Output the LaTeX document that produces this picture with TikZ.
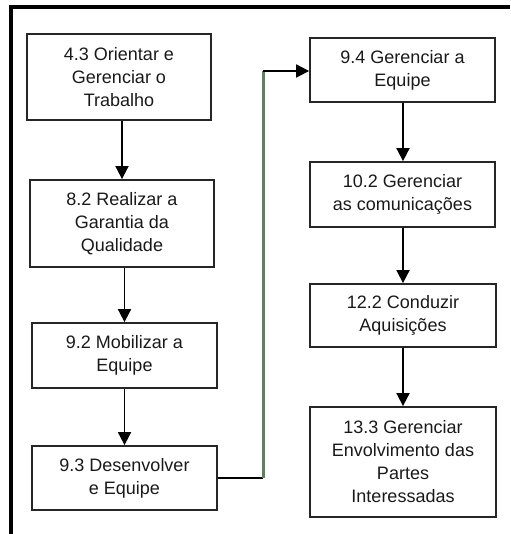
\documentclass[tikz,border=0pt]{standalone}
\usepackage{fontspec}
\setmainfont{Liberation Sans}
\usetikzlibrary{arrows.meta}
\definecolor{linkgreen}{RGB}{96,128,96}
\tikzset{
  procbox/.style={draw=black!85,line width=1.8pt,align=center,inner sep=0pt,
    font=\fontsize{18}{23}\selectfont,text=black!90},
  flow/.style={->,line width=1.8pt}
}
\begin{document}
\begin{tikzpicture}[x=1pt,y=-1pt,line cap=butt,line join=miter,>={Triangle[width=13pt,length=13pt]}]
  \useasboundingbox (0,0) rectangle (510,534);
  % frame
  \draw[line width=3.5pt] (11,534)--(11,7)--(510,7);
  % left column
  \node[procbox,minimum width=184pt,minimum height=86pt] (orientar) at (119,77) {4.3 Orientar e\\Gerenciar o\\Trabalho};
  \node[procbox,minimum width=184pt,minimum height=87pt] (garantia) at (122,223.5) {8.2 Realizar a\\Garantia da\\Qualidade};
  \node[procbox,minimum width=185pt,minimum height=65pt] (mobilizar) at (124.5,355.5) {9.2 Mobilizar a\\Equipe};
  \node[procbox,minimum width=185pt,minimum height=64pt] (desenvolver) at (124.5,478) {9.3 Desenvolver\\e Equipe};
  % right column
  \node[procbox,minimum width=185pt,minimum height=64pt] (gerenciar) at (402.5,70) {9.4 Gerenciar a\\Equipe};
  \node[procbox,minimum width=185pt,minimum height=65pt] (comunic) at (402.5,194.5) {10.2 Gerenciar\\as comunicações};
  \node[procbox,minimum width=186pt,minimum height=63pt] (aquis) at (403,315.5) {12.2 Conduzir\\Aquisições};
  \node[procbox,minimum width=186pt,minimum height=110pt] (partes) at (403,462) {13.3 Gerenciar\\Envolvimento das\\Partes\\Interessadas};
  % arrows
  \draw[flow] (orientar.south-|garantia.north) -- (garantia.north);
  \draw[flow] (garantia.south-|mobilizar.north) -- (mobilizar.north);
  \draw[flow] (mobilizar) -- (desenvolver);
  \draw[flow] (gerenciar.south-|partes.north) -- (comunic.north-|partes.north);
  \draw[flow] (comunic.south-|partes.north) -- (aquis.north-|partes.north);
  \draw[flow] (aquis) -- (partes);
  % link between columns
  \path (263,478) coordinate (bendlow) (263,71) coordinate (bendhigh);
  \draw[line width=1.8pt] (desenvolver.east) -- (bendlow);
  \draw[linkgreen,line width=3pt] (bendlow) -- (bendhigh);
  \draw[flow] (bendhigh) -- (gerenciar.west|-bendhigh);
\end{tikzpicture}
\end{document}
